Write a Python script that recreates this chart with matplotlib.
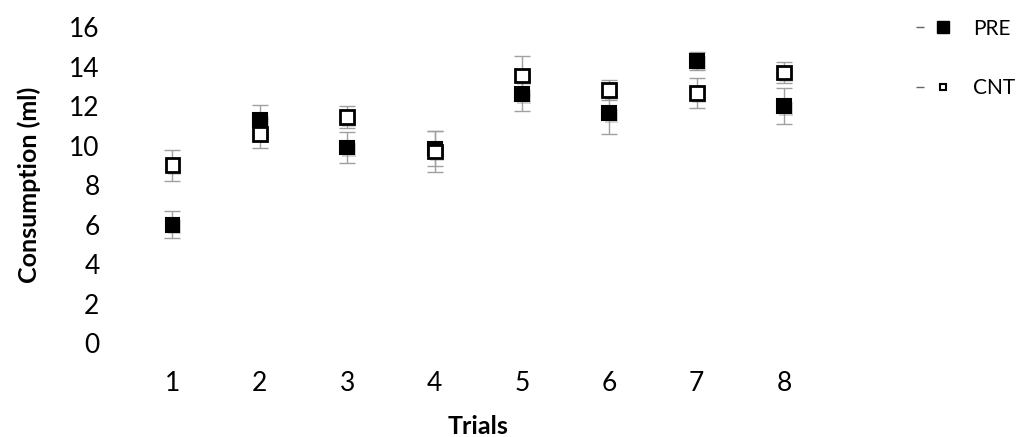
import matplotlib
matplotlib.use("Agg")
import matplotlib.pyplot as plt
import matplotlib.patheffects as pe
from matplotlib.lines import Line2D
from matplotlib.legend_handler import HandlerTuple

# consumption per trial for the two groups, with error bar half-widths
trials = [1, 2, 3, 4, 5, 6, 7, 8]
pre_mean = [6.0, 11.3, 9.9, 9.85, 12.6, 11.65, 14.3, 12.0]
pre_err = [0.7, 0.75, 0.8, 0.9, 0.85, 1.05, 0.45, 0.9]
cnt_mean = [9.0, 10.6, 11.45, 9.7, 13.55, 12.8, 12.65, 13.7]
cnt_err = [0.8, 0.73, 0.55, 1.05, 1.0, 0.5, 0.75, 0.55]
y_ticks = [0, 2, 4, 6, 8, 10, 12, 14, 16]

plt.rcParams['font.family'] = ['Lato', 'DejaVu Sans']

fig = plt.figure(figsize=(10.22, 4.37), dpi=100)
ax = fig.add_axes([0.126, 0.215, 0.684, 0.723])

shadow = [pe.SimplePatchShadow(offset=(1.5, -2), shadow_rgbFace='#888888', alpha=0.35), pe.Normal()]

ax.errorbar(trials, pre_mean, yerr=pre_err, fmt='none', ecolor='#a0a0a0',
            elinewidth=1, capsize=6, capthick=1, zorder=1)
ax.errorbar(trials, cnt_mean, yerr=cnt_err, fmt='none', ecolor='#a0a0a0',
            elinewidth=1, capsize=6, capthick=1, zorder=1)

ax.plot(trials, pre_mean, linestyle='none', marker='s', markersize=10,
        markerfacecolor='black', markeredgecolor='black', markeredgewidth=1.5,
        path_effects=shadow, zorder=3)
ax.plot(trials, cnt_mean, linestyle='none', marker='s', markersize=10,
        markerfacecolor='white', markeredgecolor='black', markeredgewidth=2,
        path_effects=shadow, zorder=4)

ax.set_xlim(0.5, 8.5)
ax.set_ylim(0, 16)
ax.set_xticks(trials)
ax.set_yticks(y_ticks)
ax.tick_params(length=0, labelsize=19)
ax.tick_params(axis='x', pad=20)
ax.tick_params(axis='y', pad=21)
for s in ax.spines.values():
    s.set_visible(False)

ax.set_xlabel('Trials', fontsize=18, fontweight='bold', labelpad=14)
ax.set_ylabel('Consumption (ml)', fontsize=18, fontweight='bold', labelpad=20)

# legend entries: short dash followed by the marker
dash = Line2D([], [], linestyle='none', marker='_', markersize=6,
              markeredgewidth=1, color='#666666')
handles = [
    (dash, Line2D([], [], linestyle='none', marker='s', markersize=9,
                  markerfacecolor='black', markeredgecolor='black')),
    (dash, Line2D([], [], linestyle='none', marker='s', markersize=5,
                  markerfacecolor='white', markeredgecolor='black', markeredgewidth=1.5)),
]
fig.legend(handles, ['PRE', 'CNT'], loc='upper left', bbox_to_anchor=(0.873, 1.0),
           frameon=False, fontsize=15, labelspacing=1.9, handlelength=2.0,
           handletextpad=1.0, handler_map={tuple: HandlerTuple(ndivide=None, pad=0.2)})

fig.savefig('out.png', dpi=100)
